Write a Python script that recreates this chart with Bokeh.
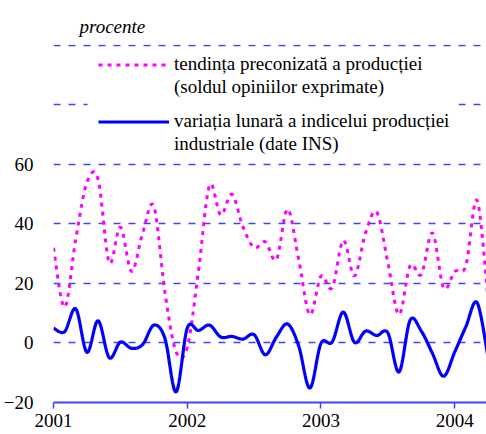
import numpy as np
from bokeh.plotting import figure
from bokeh.models import (Range1d, FixedTicker, Legend, LegendItem, BoxAnnotation)
from bokeh.embed import file_html
from bokeh.resources import INLINE

# ---- data (monthly, Jan 2001 .. Apr 2004) ----
month_index = list(range(40))
years = ["2001", "2002", "2003", "2004"]
year_ticks = [0, 12, 24, 36]

tendinta = [32, 12, 35, 54, 55, 27, 39, 24, 37, 46,
            17, -3, -1.5, 24, 53, 43, 50, 39, 32, 34,
            28, 45, 28, 9.5, 22.5, 18.5, 34.5, 22.5, 37, 44,
            27, 9.5, 26, 23, 37, 18.5, 24, 26, 48, 14]

variatia = [5, 3.8, 11.5, -3.2, 7.5, -5, 0.3, -1.8, -0.5, 6,
            1.5, -16.5, 5, 4.2, 6, 2, 2.2, 1.3, 2.8, -4,
            2, 6.4, -1, -15.2, -0.1, 0.3, 10.4, 0.2, 4, 2.5,
            3.4, -9.8, 7.7, 4, -3.5, -11.2, -3, 5.5, 13.6, -5]

y_label_ticks = [-20, 0, 20, 40, 60]
y_grid_ticks = [0, 20, 40, 60, 80, 100]

label_pink = ["tendința preconizată a producției", "(soldul opiniilor exprimate)"]
label_blue = ["variația lunară a indicelui producției", "industriale (date INS)"]
unit_text = "procente"


def smooth(xs, ys, n=12):
    """Catmull-Rom rendering of the line through the given points (as Excel's smoothed line)."""
    xs = np.asarray(xs, float)
    ys = np.asarray(ys, float)
    ox, oy = [], []
    m = len(xs)
    for i in range(m - 1):
        i0, i3 = max(i - 1, 0), min(i + 2, m - 1)
        for t in np.linspace(0, 1, n, endpoint=False):
            t2, t3 = t * t, t * t * t
            def cr(a):
                p0, p1, p2, p3 = a[i0], a[i], a[i + 1], a[i3]
                return 0.5 * ((2 * p1) + (-p0 + p2) * t + (2 * p0 - 5 * p1 + 4 * p2 - p3) * t2
                              + (-p0 + 3 * p1 - 3 * p2 + p3) * t3)
            ox.append(cr(xs))
            oy.append(cr(ys))
    ox.append(xs[-1])
    oy.append(ys[-1])
    return ox, oy


SERIF = "Liberation Serif"
GRID_BLUE = "#4040ff"

p = figure(width=486, height=434, output_backend="svg", toolbar_location=None,
           x_range=Range1d(0, 38.85), y_range=Range1d(-20, 100.3),
           min_border_left=52, min_border_right=0, min_border_top=44, min_border_bottom=32)
p.outline_line_color = None
p.background_fill_color = "white"

# title used as the unit note above the plot
p.title.text = unit_text
p.title.text_font = SERIF
p.title.text_font_style = "italic"
p.title.text_font_size = "19px"
p.title.text_color = "black"
p.title.align = "left"
p.title.offset = 26
p.title.standoff = 16

# grid
p.xgrid.visible = False
p.ygrid.ticker = FixedTicker(ticks=y_grid_ticks)
p.ygrid.grid_line_color = GRID_BLUE
p.ygrid.grid_line_dash = "7 8"
p.ygrid.grid_line_width = 1.3

# y axis: labels only
p.yaxis.ticker = FixedTicker(ticks=y_label_ticks)
p.yaxis.axis_line_color = None
p.yaxis.major_tick_line_color = None
p.yaxis.minor_tick_line_color = None
p.yaxis.major_label_standoff = 14
p.yaxis.major_label_text_font = SERIF
p.yaxis.major_label_text_font_size = "19px"
p.yaxis.major_label_text_color = "black"

# x axis
p.xaxis.ticker = FixedTicker(ticks=year_ticks)
p.xaxis.major_label_overrides = {t: y for t, y in zip(year_ticks, years)}
p.xaxis.axis_line_color = "#4040ff"
p.xaxis.axis_line_width = 2
p.xaxis.major_tick_line_color = "#4040ff"
p.xaxis.major_tick_line_width = 1.5
p.xaxis.major_tick_in = 0
p.xaxis.major_tick_out = 6
p.xaxis.minor_tick_line_color = None
p.xaxis.major_label_standoff = 5
p.xaxis.major_label_text_font = SERIF
p.xaxis.major_label_text_font_size = "19px"
p.xaxis.major_label_text_color = "black"

# series
sx, sy = smooth(month_index, tendinta)
r_pink = p.line(sx, sy, line_color="#ff00ff", line_width=3, line_dash="4 5")
bx, by = smooth(month_index, variatia)
r_blue = p.line(bx, by, line_color="#0000ff", line_width=3.2)
r_blank = p.line([], [], line_alpha=0)

# white panel behind the legend (hides the 80 gridline there)
p.add_layout(BoxAnnotation(left=3.05, right=36.35, bottom=61.8, top=98,
                           fill_color="white", fill_alpha=1, line_color=None))

legend_style = dict(border_line_color=None, background_fill_alpha=0, padding=0, margin=0,
                    spacing=1, glyph_width=71, glyph_height=21, label_height=21,
                    label_standoff=5, label_text_font=SERIF, label_text_font_size="19px",
                    label_text_color="black")

leg1 = Legend(items=[LegendItem(label=label_pink[0], renderers=[r_pink]),
                     LegendItem(label=label_pink[1], renderers=[r_blank])],
              location=(45, 304), **legend_style)
leg2 = Legend(items=[LegendItem(label=label_blue[0], renderers=[r_blue]),
                     LegendItem(label=label_blue[1], renderers=[r_blank])],
              location=(45, 247), **legend_style)
p.add_layout(leg1, "center")
p.add_layout(leg2, "center")

open("out.html", "w").write(file_html(p, INLINE))
